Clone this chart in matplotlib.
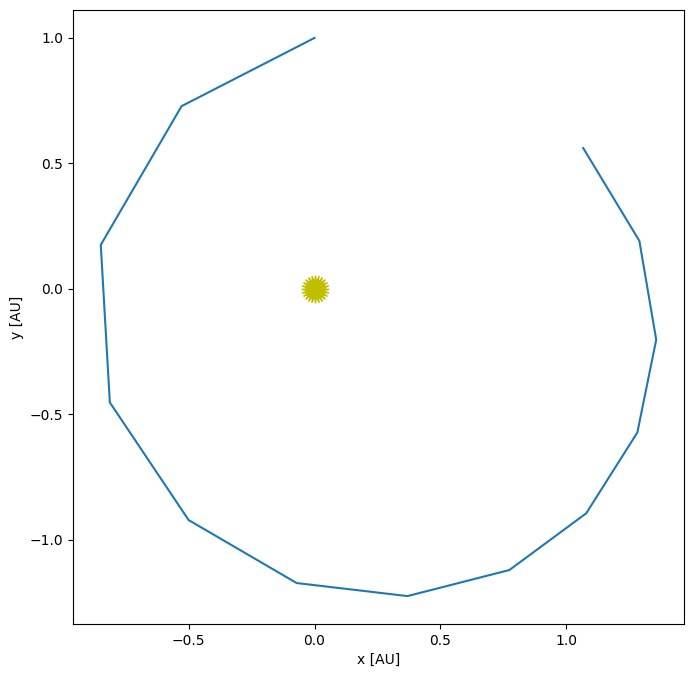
import matplotlib
matplotlib.use('Agg')
import matplotlib.pyplot as plt

# orbit points [AU]
x = [0.0, -0.528, -0.849, -0.813, -0.5, -0.071, 0.369, 0.774, 1.079, 1.282, 1.357, 1.29, 1.067]
y = [1.0, 0.728, 0.175, -0.453, -0.922, -1.173, -1.225, -1.121, -0.895, -0.573, -0.203, 0.191, 0.561]

fig = plt.figure(figsize=(6.94, 6.79), dpi=100)
ax = fig.add_axes([73 / 694, 1 - 624 / 679, (684 - 73) / 694, (624 - 10) / 679])

ax.plot(x, y)
ax.plot(0, 0, marker=(24, 1, 0), markersize=20, color='y')
ax.set_xlabel('x [AU]')
ax.set_ylabel('y [AU]')

plt.savefig('out.png', dpi=100)
